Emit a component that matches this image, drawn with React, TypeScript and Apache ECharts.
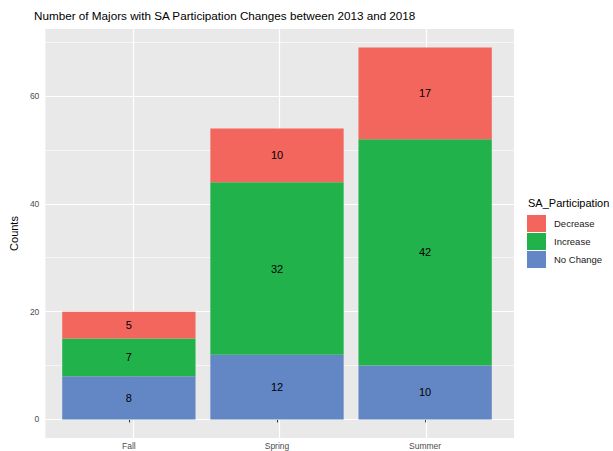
import React, { useEffect, useRef } from "react";
import * as echarts from "echarts";

const categories = ["Fall", "Spring", "Summer"];
const noChange = [8, 12, 10];
const increase = [7, 32, 42];
const decrease = [5, 10, 17];
const yMajor = [0, 20, 40, 60];
const yMinor = [10, 30, 50, 70];
const xMajor = [0, 1, 2];

const FONT = "Liberation Sans, Arial, Helvetica, sans-serif";

export default function App() {
  const ref = useRef<HTMLDivElement>(null);
  useEffect(() => {
    const chart = echarts.init(ref.current!, null, { renderer: "svg" });
    const total = categories.map((_, i) => noChange[i] + increase[i] + decrease[i]);
    const maxV = Math.max(...total);
    const pad = maxV * 0.05;
    const panelLeft = 40;
    const panelWidth = 474;
    const n = categories.length;
    const band = panelWidth / (n + 0.2);
    const innerLeft = panelLeft + 0.1 * band;
    const barLabel = {
      show: true,
      position: "inside",
      color: "#000",
      fontSize: 11,
      fontFamily: FONT,
    };
    const barCommon = {
      type: "bar",
      stack: "s",
      xAxisIndex: 1,
      yAxisIndex: 1,
      z: 3,
      barWidth: "90%",
      label: barLabel,
    };
    chart.setOption({
      animation: false,
      backgroundColor: "#fff",
      textStyle: { fontFamily: FONT },
      title: {
        text: "Number of Majors with SA Participation Changes between 2013 and 2018",
        left: 34,
        top: 9,
        padding: 0,
        textStyle: { fontSize: 11.7, fontWeight: "normal", color: "#000", fontFamily: FONT },
      },
      graphic: [
        {
          type: "text",
          left: 528,
          top: 197,
          style: { text: "SA_Participation", fontSize: 11, fill: "#000", fontFamily: FONT },
        },
      ],
      legend: {
        orient: "vertical",
        left: 527,
        top: 215,
        padding: 0,
        itemWidth: 19,
        itemHeight: 17,
        itemGap: 1,
        icon: "rect",
        selectedMode: false,
        data: ["Decrease", "Increase", "No Change"],
        textStyle: { fontSize: 9.5, color: "#1a1a1a", fontFamily: FONT, padding: [0, 0, 0, 3] },
      },
      grid: [
        { left: panelLeft, top: 29, width: panelWidth, height: 409, backgroundColor: "#E9E9E9", show: true, borderWidth: 0 },
        { left: innerLeft, top: 29, width: band * n, height: 409, show: false },
      ],
      xAxis: [
        {
          type: "value",
          gridIndex: 0,
          min: -0.6,
          max: n - 1 + 0.6,
          axisLine: { show: false },
          splitLine: { show: false },
          axisTick: { show: false },
          axisLabel: { show: false },
        },
        {
          type: "category",
          gridIndex: 1,
          data: categories,
          axisLine: { show: false },
          splitLine: { show: false },
          axisTick: { show: true, alignWithLabel: true, length: 3, lineStyle: { color: "#333" } },
          axisLabel: { margin: 3, fontSize: 8.5, color: "#4D4D4D", fontFamily: FONT },
        },
      ],
      yAxis: [
        {
          type: "value",
          gridIndex: 0,
          min: -pad,
          max: maxV + pad,
          name: "Counts",
          nameLocation: "middle",
          nameRotate: 90,
          nameGap: 22,
          nameTextStyle: { fontSize: 11, color: "#000", fontFamily: FONT },
          axisLine: { show: false },
          splitLine: { show: false },
          axisTick: { show: true, length: 3, customValues: yMajor, lineStyle: { color: "#333" } },
          axisLabel: {
            customValues: yMajor,
            margin: 6,
            fontSize: 8.5,
            color: "#4D4D4D",
            fontFamily: FONT,
          },
        },
        {
          type: "value",
          gridIndex: 1,
          min: -pad,
          max: maxV + pad,
          show: false,
          splitLine: { show: false },
        },
      ],
      series: [
        {
          type: "line",
          xAxisIndex: 0,
          yAxisIndex: 0,
          data: [],
          z: 1,
          silent: true,
          markLine: {
            silent: true,
            z: 1,
            symbol: "none",
            label: { show: false },
            animation: false,
            data: [
              ...yMinor.map((v) => ({ yAxis: v, lineStyle: { color: "#fff", width: 0.6, type: "solid" } })),
              ...yMajor.map((v) => ({ yAxis: v, lineStyle: { color: "#fff", width: 1.2, type: "solid" } })),
              ...xMajor.map((v) => ({ xAxis: v, lineStyle: { color: "#fff", width: 1.2, type: "solid" } })),
            ],
          },
        },
        { ...barCommon, name: "No Change", data: noChange, itemStyle: { color: "#6387C5" } },
        { ...barCommon, name: "Increase", data: increase, itemStyle: { color: "#22B24B" } },
        { ...barCommon, name: "Decrease", data: decrease, itemStyle: { color: "#F2665E" } },
      ],
    });
    return () => chart.dispose();
  }, []);
  return (
    <div
      ref={ref}
      style={{ position: "fixed", left: 0, top: 0, width: 613, height: 451 }}
    />
  );
}
